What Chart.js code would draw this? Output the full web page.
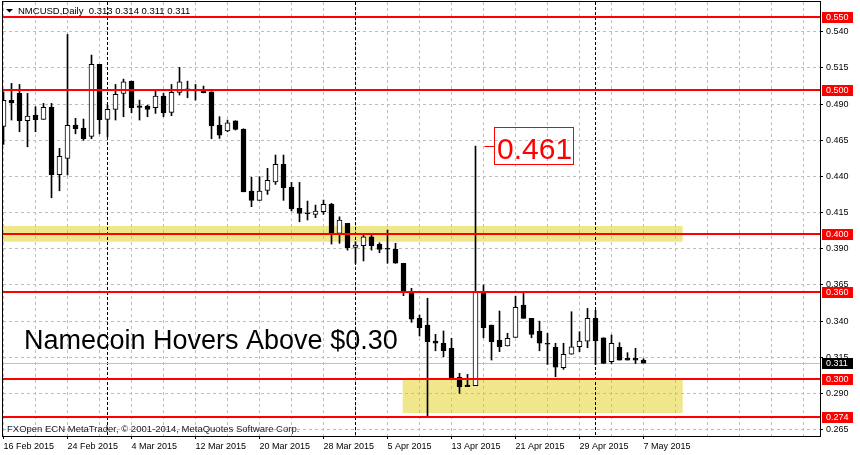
<!DOCTYPE html>
<html><head><meta charset="utf-8">
<script src="https://cdn.jsdelivr.net/npm/chart.js@4/dist/chart.umd.min.js"></script>
<style>html,body{margin:0;padding:0;background:#fff;overflow:hidden}#wrap{width:860px;height:455px;position:relative}</style>
</head><body><div id="wrap"><canvas id="c" width="860" height="455"></canvas></div>
<script>
const chartTitle = 'NMCUSD,Daily  0.313 0.314 0.311 0.311';
const copyrightText = 'FXOpen ECN MetaTrader, \u00A9 2001-2014, MetaQuotes Software Corp.';
const headline = 'Namecoin Hovers Above $0.30';
const xTickLabels = ['16 Feb 2015','24 Feb 2015','4 Mar 2015','12 Mar 2015','20 Mar 2015','28 Mar 2015','5 Apr 2015','13 Apr 2015','21 Apr 2015','29 Apr 2015','7 May 2015'];
const yTickValues = [0.265,0.290,0.315,0.340,0.365,0.390,0.415,0.440,0.465,0.490,0.515,0.540];
const opens = [0.4746,0.4926,0.4974,0.4785,0.4824,0.4795,0.4878,0.4412,0.4525,0.4755,
0.4734,0.4677,0.5175,0.4795,0.4864,0.4974,0.5059,0.4889,0.4887,0.4875,
0.4956,0.4843,0.4981,0.5005,0.5000,0.4997,0.4985,0.4755,0.4714,0.4785,
0.4726,0.4299,0.4235,0.4304,0.4363,0.4484,0.4325,0.4180,0.4143,0.4138,
0.4156,0.4207,0.4007,0.4076,0.3910,0.3921,0.3983,0.3931,0.3899,0.3896,
0.3800,0.3592,0.3419,0.3373,0.3262,0.3247,0.3212,0.3012,0.2958,0.2954,
0.3603,0.3373,0.3269,0.3228,0.3288,0.3511,0.3419,0.3332,0.3242,0.3219,
0.3078,0.3171,0.3223,0.3262,0.3419,0.3285,0.3119,0.3219,0.3143,0.3143,
0.3130];
const highs = [0.4985,0.5043,0.5036,0.4974,0.4882,0.4905,0.4905,0.4594,0.5382,0.4802,
0.4797,0.5239,0.5175,0.4893,0.5036,0.5073,0.5059,0.4928,0.4893,0.4990,
0.4974,0.5036,0.5154,0.5059,0.5036,0.5025,0.4985,0.4813,0.4790,0.4785,
0.4730,0.4394,0.4398,0.4456,0.4548,0.4548,0.4359,0.4359,0.4230,0.4202,
0.4237,0.4214,0.4121,0.4076,0.3949,0.3995,0.3995,0.3942,0.4030,0.3938,
0.3800,0.3627,0.3442,0.3558,0.3309,0.3332,0.3281,0.3039,0.3032,0.4610,
0.3650,0.3373,0.3470,0.3316,0.3573,0.3592,0.3419,0.3400,0.3316,0.3247,
0.3247,0.3465,0.3327,0.3488,0.3475,0.3285,0.3304,0.3251,0.3182,0.3212,
0.3140];
const lows = [0.4622,0.4790,0.4709,0.4605,0.4709,0.4795,0.4253,0.4301,0.4410,0.4695,
0.4650,0.4661,0.4695,0.4674,0.4790,0.4813,0.4840,0.4790,0.4813,0.4836,
0.4813,0.4820,0.4963,0.4944,0.4928,0.4978,0.4661,0.4663,0.4709,0.4721,
0.4294,0.4191,0.4235,0.4276,0.4345,0.4235,0.4161,0.4087,0.4099,0.4115,
0.4138,0.3933,0.3938,0.3891,0.3800,0.3816,0.3891,0.3873,0.3800,0.3800,
0.3576,0.3392,0.3297,0.2740,0.3195,0.3154,0.3005,0.2901,0.2947,0.2954,
0.3285,0.3131,0.3189,0.3228,0.3288,0.3419,0.3285,0.3195,0.3101,0.3016,
0.3067,0.3171,0.3189,0.3216,0.3101,0.3107,0.3107,0.3131,0.3131,0.3107,
0.3110];
const closes = [0.4926,0.4909,0.4785,0.4817,0.4792,0.4878,0.4412,0.4539,0.4753,0.4730,
0.4661,0.5175,0.4792,0.4864,0.4967,0.5055,0.4875,0.4878,0.4864,0.4956,
0.4840,0.4981,0.5055,0.4998,0.4992,0.4978,0.4750,0.4686,0.4771,0.4726,
0.4294,0.4235,0.4299,0.4373,0.4484,0.4322,0.4175,0.4145,0.4141,0.4161,
0.4207,0.4007,0.4099,0.3907,0.3926,0.3983,0.3921,0.3896,0.3897,0.3800,
0.3599,0.3414,0.3354,0.3258,0.3247,0.3195,0.3005,0.2947,0.2947,0.3603,
0.3354,0.3258,0.3223,0.3281,0.3495,0.3419,0.3309,0.3247,0.3240,0.3081,
0.3171,0.3223,0.3262,0.3419,0.3264,0.3107,0.3247,0.3131,0.3131,0.3131,
0.3110];
const levelLines = [0.550,0.500,0.400,0.360,0.300,0.274];
const lastPrice = 0.311;
const peakIndex = 59;
const peakLabel = '0.461';
const monthStarts = [13,44,74];
const zoneFrom = [-2, 49.9];
const zoneTo = [84.9, 84.9];
const zoneTop = [0.4058, 0.3005];
const zoneBottom = [0.3949, 0.2765];

const FONT = '"Liberation Sans", Arial, sans-serif';
Chart.defaults.font.family = FONT;
Chart.defaults.font.size = 9;
Chart.defaults.color = '#000';

const idx = opens.map((_, i) => i);

const overlay = {
  id: 'overlay',
  beforeDraw(chart) {
    const {ctx, chartArea: a, scales: {x, y}} = chart;
    ctx.save();
    ctx.fillStyle = '#fff';
    ctx.fillRect(0, 0, chart.width, chart.height);
    ctx.beginPath(); ctx.rect(a.left, a.top, a.right - a.left, a.bottom - a.top); ctx.clip();
    ctx.fillStyle = '#F0E68C';
    for (let k = 0; k < zoneFrom.length; k++) {
      const x1 = x.getPixelForValue(zoneFrom[k]), x2 = x.getPixelForValue(zoneTo[k]);
      const y1 = y.getPixelForValue(zoneTop[k]), y2 = y.getPixelForValue(zoneBottom[k]);
      ctx.fillRect(x1, y1, x2 - x1, y2 - y1);
    }
    ctx.restore();
  },
  beforeDatasetsDraw(chart) {
    const {ctx, chartArea: a, scales: {x, y}} = chart;
    ctx.save();
    ctx.beginPath(); ctx.rect(a.left, a.top, a.right - a.left, a.bottom - a.top); ctx.clip();
    ctx.strokeStyle = '#000'; ctx.lineWidth = 1; ctx.setLineDash([3, 2]);
    monthStarts.forEach(m => {
      const px = Math.floor(x.getPixelForValue(m)) + 0.5;
      ctx.beginPath(); ctx.moveTo(px, a.top); ctx.lineTo(px, a.bottom); ctx.stroke();
    });
    ctx.setLineDash([]);
    ctx.strokeStyle = '#C0C0C0';
    const py = Math.round(y.getPixelForValue(lastPrice)) + 0.5;
    ctx.beginPath(); ctx.moveTo(a.left, py); ctx.lineTo(a.right, py); ctx.stroke();
    ctx.restore();
  },
  afterDatasetsDraw(chart) {
    const {ctx, chartArea: a, scales: {y}} = chart;
    ctx.save();
    ctx.strokeStyle = '#FF0000'; ctx.lineWidth = 2;
    levelLines.forEach(v => {
      const py = Math.round(y.getPixelForValue(v));
      ctx.beginPath(); ctx.moveTo(a.left, py); ctx.lineTo(a.right, py); ctx.stroke();
    });
    ctx.restore();
  },
  afterDraw(chart) {
    const {ctx, chartArea: a, scales: {x, y}} = chart;
    ctx.save();
    ctx.strokeStyle = '#000'; ctx.lineWidth = 1;
    ctx.strokeRect(a.left - 0.5, a.top - 0.5, a.right - a.left + 1, a.bottom - a.top + 1);
    ctx.font = '9px ' + FONT; ctx.textBaseline = 'middle'; ctx.textAlign = 'left';
    const tag = (v, bg) => {
      const py = Math.round(y.getPixelForValue(v));
      ctx.fillStyle = bg; ctx.fillRect(a.right + 2, py - 5, 31, 11);
      ctx.fillStyle = '#fff'; ctx.fillText(v.toFixed(3), a.right + 6, py + 0.5);
    };
    levelLines.forEach(v => tag(v, '#FF0000'));
    tag(lastPrice, '#000');
    ctx.fillStyle = '#000';
    ctx.beginPath(); ctx.moveTo(6, 9); ctx.lineTo(13, 9); ctx.lineTo(9.5, 12.5); ctx.closePath(); ctx.fill();
    ctx.font = '9.5px ' + FONT;
    ctx.fillText(chartTitle, 18, 11);
    ctx.fillStyle = '#1a1a2a';
    ctx.fillText(copyrightText, 7, 429.5);
    ctx.fillStyle = '#000';
    ctx.font = '27px ' + FONT; ctx.textBaseline = 'alphabetic';
    ctx.fillText(headline, 24, 349);
    const wx = x.getPixelForValue(peakIndex);
    const wy = Math.round(y.getPixelForValue(highs[peakIndex])) + 0.5;
    ctx.strokeStyle = '#FF0000'; ctx.lineWidth = 1;
    ctx.beginPath(); ctx.moveTo(wx + 9, wy); ctx.lineTo(wx + 19, wy); ctx.stroke();
    ctx.strokeRect(494.5, 127.5, 79, 37);
    ctx.fillStyle = '#FF0000'; ctx.font = '30px ' + FONT;
    ctx.fillText(peakLabel, 497, 158.5);
    ctx.restore();
  }
};

new Chart(document.getElementById('c'), {
  type: 'bar',
  data: {
    datasets: [
      {
        label: 'wicks',
        data: idx.map(i => ({x: i, y: [lows[i], highs[i]]})),
        backgroundColor: '#000',
        borderWidth: 0,
        barThickness: 1,
        grouped: false,
        order: 2
      },
      {
        label: 'bodies',
        data: idx.map(i => ({x: i, y: [opens[i], closes[i]]})),
        backgroundColor: c => closes[c.dataIndex] > opens[c.dataIndex] ? '#fff' : '#000',
        borderColor: '#000',
        borderWidth: 1,
        borderSkipped: false,
        barThickness: 5,
        minBarLength: 1,
        grouped: false,
        order: 1
      }
    ]
  },
  options: {
    responsive: false,
    animation: false,
    devicePixelRatio: 1,
    events: [],
    layout: {padding: {left: 3, top: 2, right: 0, bottom: 0}},
    plugins: {legend: {display: false}, tooltip: {enabled: false}},
    scales: {
      x: {
        type: 'linear',
        min: -0.0625,
        max: 102.0625,
        offset: false,
        afterBuildTicks: s => { const t = []; for (let v = 0; v <= 100; v += 4) t.push({value: v}); s.ticks = t; },
        afterFit: s => { s.height = 19; s.paddingLeft = 0; s.paddingRight = 0; },
        ticks: {
          autoSkip: false, maxRotation: 0, minRotation: 0, align: 'start', padding: 2,
          font: {size: 9}, color: '#000',
          callback: v => { const k = v / 8; return (Number.isInteger(k) && k < xTickLabels.length) ? xTickLabels[k] : ''; }
        },
        grid: {
          offset: false, color: '#BDBDBD', lineWidth: 1, tickLength: 3,
          tickColor: c => (c.tick && c.tick.value % 8 === 0 && c.tick.value / 8 < xTickLabels.length) ? '#000' : 'rgba(0,0,0,0)',
          tickBorderDash: []
        },
        border: {display: false, dash: [3, 3]}
      },
      y: {
        position: 'right',
        min: 0.2606,
        max: 0.5606,
        beginAtZero: false,
        afterBuildTicks: s => { s.ticks = yTickValues.map(v => ({value: v})); },
        afterFit: s => { s.width = 40; s.paddingTop = 0; s.paddingBottom = 0; },
        ticks: {padding: 3, font: {size: 9}, color: '#000', callback: v => v.toFixed(3)},
        grid: {color: '#BDBDBD', lineWidth: 1, tickLength: 3, tickColor: '#000', tickBorderDash: []},
        border: {display: false, dash: [3, 3]}
      }
    }
  },
  plugins: [overlay]
});
</script>
</body></html>
